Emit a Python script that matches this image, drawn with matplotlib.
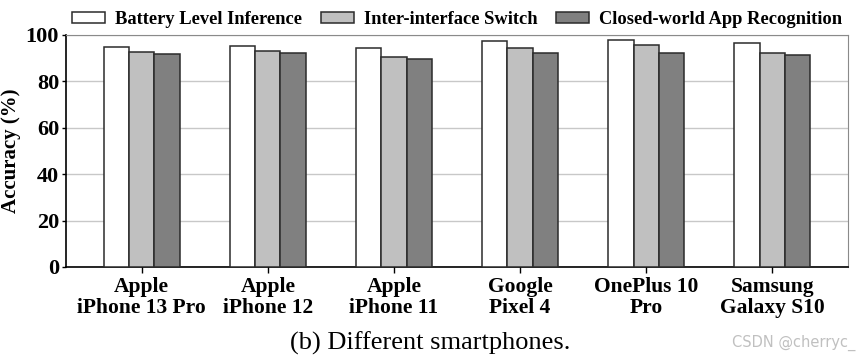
import numpy as np
import matplotlib
matplotlib.use("Agg")
import matplotlib.pyplot as plt

# datos
phones = ["Apple\niPhone 13 Pro", "Apple\niPhone 12", "Apple\niPhone 11",
          "Google\nPixel 4", "OnePlus 10\nPro", "Samsung\nGalaxy S10"]
battery = [95.0, 95.4, 94.5, 97.6, 97.7, 96.7]
switch = [92.5, 93.2, 90.6, 94.4, 95.7, 92.4]
closed = [91.8, 92.2, 89.7, 92.1, 92.4, 91.4]
series_names = ["Battery Level Inference", "Inter-interface Switch",
                "Closed-world App Recognition"]
yticks = [0, 20, 40, 60, 80, 100]

plt.rcParams['font.family'] = ['Liberation Serif', 'DejaVu Serif']

fig = plt.figure(figsize=(8.6, 3.57), dpi=100)
ax = fig.add_axes([66 / 860, 1 - 267 / 357, 782 / 860, 232 / 357])

x = np.arange(len(phones))
w = 0.2
colores = ["#ffffff", "#c0c0c0", "#808080"]
for i, (vals, name) in enumerate(zip([battery, switch, closed], series_names)):
    ax.bar(x + (i - 1) * w, vals, w, color=colores[i], edgecolor="#2b2b2b",
           linewidth=1.1, label=name, zorder=3)

ax.set_xlim(-0.6, len(phones) - 0.4)
ax.set_ylim(0, 100)
ax.set_yticks(yticks)
ax.set_xticks(x)
ax.set_xticklabels(phones, fontsize=15.5, fontweight="bold", linespacing=1.08)
ax.tick_params(axis="y", length=3, width=1, labelsize=16, pad=2)
for lab in ax.get_yticklabels():
    lab.set_fontweight("bold")
ax.tick_params(axis="x", length=4, width=1, pad=3)
ax.yaxis.grid(True, color="#c8c8c8", linewidth=1.0, zorder=0)
ax.set_ylabel("Accuracy (%)", fontsize=15, fontweight="bold")
ax.yaxis.set_label_coords(-0.057, 0.5)

for s in ["top", "right"]:
    ax.spines[s].set_color("#8a8a8a")
for s in ["left", "bottom"]:
    ax.spines[s].set_color("black")
    ax.spines[s].set_linewidth(1.2)

ax.legend(loc="lower center", bbox_to_anchor=(0.5, 0.99), ncol=3, frameon=False,
          prop={"weight": "bold", "size": 13.3}, handlelength=1.8, handleheight=0.55,
          columnspacing=1.0, handletextpad=0.53, borderaxespad=0.1)

fig.text(0.5, 1 - 343 / 357, "(b) Different smartphones.", ha="center",
         va="center", fontsize=19)
fig.text(0.995, 1 - 343 / 357, "CSDN @cherryc_", ha="right", va="center",
         fontsize=10.5, color="#c0c0c0", family="DejaVu Sans")

fig.savefig("out.png", dpi=100)
